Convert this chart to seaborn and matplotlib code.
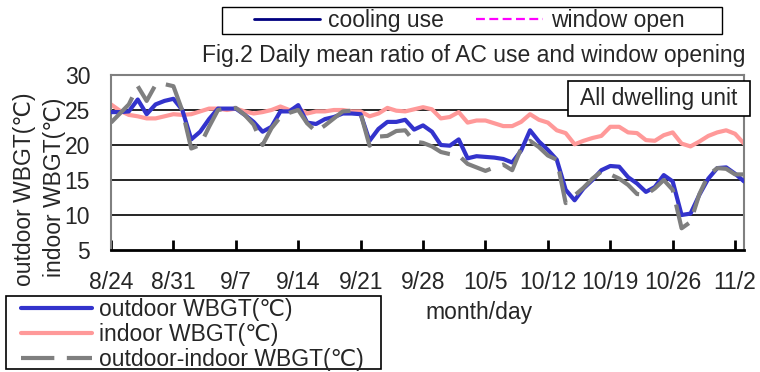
import numpy as np
import pandas as pd
import matplotlib
matplotlib.use("Agg")
import matplotlib.pyplot as plt
import matplotlib.dates as mdates
from matplotlib.lines import Line2D
from matplotlib.patches import Rectangle
import seaborn as sns

# ---------------- data ----------------
start_date = "2019-08-24"
outdoor = [24.7, 24.7, 24.8, 26.5, 24.4, 25.8, 26.3, 26.6, 25.0, 20.8,
           21.9, 23.7, 25.2, 25.2, 25.2, 24.3, 23.3, 21.9, 22.6, 24.8,
           24.8, 25.7, 23.2, 23.0, 23.7, 24.0, 24.5, 24.5, 24.4, 20.6,
           22.3, 23.3, 23.3, 23.6, 22.2, 22.8, 21.9, 20.0, 19.9, 20.8,
           18.1, 18.4, 18.3, 18.2, 18.0, 17.5, 19.2, 22.1, 20.5, 19.3,
           17.9, 13.6, 12.1, 13.8, 15.0, 16.4, 17.0, 16.9, 15.4, 14.5,
           13.3, 14.0, 15.7, 14.8, 10.0, 10.2, 12.9, 15.2, 16.7, 16.8,
           15.9, 14.8]
indoor = [25.8, 24.9, 24.3, 24.1, 23.8, 23.8, 24.1, 24.4, 24.3, 24.4,
          24.8, 25.2, 25.2, 25.0, 25.2, 24.8, 24.5, 24.7, 25.0, 25.5,
          25.0, 25.2, 24.5, 24.8, 24.8, 25.0, 25.0, 24.8, 24.8, 24.1,
          24.5, 25.3, 24.9, 24.8, 25.1, 25.4, 25.1, 23.8, 24.0, 24.7,
          23.2, 23.5, 23.5, 23.1, 22.7, 22.7, 23.3, 24.4, 23.6, 23.2,
          22.1, 21.7, 20.1, 20.6, 21.0, 21.3, 22.6, 22.6, 21.8, 21.7,
          20.7, 20.6, 21.4, 21.8, 20.2, 19.8, 20.5, 21.3, 21.8, 22.1,
          21.6, 20.2]
out_in = [23.2, 24.5, 25.8, 28.4, 26.3, 28.6, 28.7, 28.4, 24.9, 19.5,
          20.0, 22.6, 25.0, 25.2, 25.3, 24.3, 22.9, 20.0, 22.4, 24.0,
          24.6, 25.0, 23.1, 21.9, 22.8, 23.8, 24.8, 24.9, 24.5, 19.9,
          21.2, 21.3, 22.0, 22.1, 20.5, 20.3, 19.8, 19.0, 18.7, 18.5,
          17.3, 16.8, 16.3, 16.8, 17.2, 16.4, 19.5, 20.6, 19.7, 18.5,
          17.9, 11.7, 12.8, 13.9, 15.2, 16.2, 15.8, 15.2, 14.3, 13.0,
          12.9, 13.8, 15.0, 13.6, 8.1, 9.0, 13.0, 15.7, 16.7, 16.6,
          15.8, 15.8]
x_tick_labels = ["8/24", "8/31", "9/7", "9/14", "9/21", "9/28",
                 "10/5", "10/12", "10/19", "10/26", "11/2"]
y_ticks = [5, 10, 15, 20, 25, 30]
series_labels = ["outdoor WBGT(℃)", "indoor WBGT(℃)", "outdoor-indoor WBGT(℃)"]
top_legend_labels = ["cooling use", "window open"]

# ---------------- style ----------------
sns.set_theme(style="white")
plt.rcParams["font.family"] = ["Liberation Sans", "DejaVu Sans"]
FS = 16.5
plt.rcParams["font.size"] = FS

W, H = 760, 372
fig = plt.figure(figsize=(W / 100, H / 100), dpi=100)
fig.patch.set_facecolor("white")

def fx(px):
    return px / W

def fy(py):
    return 1 - py / H

ax = fig.add_axes([fx(111), fy(250), fx(744) - fx(111), fy(75) - fy(250)])
ax.set_facecolor("white")

dates = pd.date_range(start_date, periods=len(outdoor))
df = pd.DataFrame({"date": dates, "outdoor": outdoor,
                   "indoor": indoor, "out_in": out_in})

# horizontal grid lines (interior only)
for yv in y_ticks[1:-1]:
    ax.axhline(yv, color="black", lw=1.2, zorder=1)

blue, pink, gray = "#3333cc", "#ff9999", "#7f7f7f"
sns.lineplot(data=df, x="date", y="outdoor", ax=ax, color=blue, lw=3,
             label=series_labels[0], zorder=3, legend=False)
sns.lineplot(data=df, x="date", y="indoor", ax=ax, color=pink, lw=3,
             label=series_labels[1], zorder=2, legend=False)
sns.lineplot(data=df, x="date", y="out_in", ax=ax, color=gray, lw=3,
             linestyle=(0, (8, 3)), label=series_labels[2], zorder=4,
             legend=False)

ax.set_xlim(dates[0], dates[-1])
ax.set_ylim(y_ticks[0], y_ticks[-1])
ax.set_yticks(y_ticks)
ax.set_yticklabels([str(v) for v in y_ticks])
tick_pos = [dates[0] + pd.Timedelta(days=7 * i) for i in range(len(x_tick_labels))]
ax.set_xticks(tick_pos)
ax.set_xticklabels(x_tick_labels)
ax.set_xlabel("")
ax.set_ylabel("")
ax.tick_params(axis="x", direction="in", length=7, width=2, color="black",
               pad=15, labelsize=FS, bottom=True)
ax.tick_params(axis="y", length=0, pad=15, labelsize=FS)

for s in ["top", "left", "right"]:
    ax.spines[s].set_color("#808080")
    ax.spines[s].set_linewidth(1.5)
ax.spines["bottom"].set_color("black")
ax.spines["bottom"].set_linewidth(2)

# ---------------- texts ----------------
fig.text(fx(473.5), fy(62), "Fig.2 Daily mean ratio of AC use and window opening",
         ha="center", va="baseline", fontsize=FS)
fig.text(fx(25), fy(189), series_labels[0], rotation=90, ha="center",
         va="center", fontsize=FS)
fig.text(fx(55), fy(187), series_labels[1], rotation=90, ha="center",
         va="center", fontsize=FS)
fig.text(fx(479), fy(313), "month/day", ha="center", va="center", fontsize=FS)

# "All dwelling unit" box
fig.patches.append(Rectangle((fx(568), fy(116)), fx(750) - fx(568), fy(81) - fy(116),
                             transform=fig.transFigure, facecolor="white",
                             edgecolor="black", lw=1.2, zorder=5))
fig.text(fx(659), fy(98.5), "All dwelling unit", ha="center", va="center",
         fontsize=FS, zorder=6)

# ---------------- top legend (cooling / window) ----------------
fig.patches.append(Rectangle((fx(222), fy(34)), fx(722) - fx(222), fy(7) - fy(34),
                             transform=fig.transFigure, facecolor="white",
                             edgecolor="black", lw=1.0, zorder=5))
top_handles = [Line2D([], [], color="#000080", lw=2),
               Line2D([], [], color="#ff00ff", lw=1.6, linestyle=(0, (4, 2)))]
leg_top = fig.legend(top_handles, top_legend_labels, ncol=2,
                     loc="center left", bbox_to_anchor=(fx(254), fy(20.5)),
                     frameon=False, fontsize=FS, handlelength=2.9,
                     handletextpad=0.35, columnspacing=1.4,
                     borderpad=0, borderaxespad=0)
leg_top.set_zorder(6)

# ---------------- bottom legend ----------------
fig.patches.append(Rectangle((fx(6), fy(369)), fx(381) - fx(6), fy(296) - fy(369),
                             transform=fig.transFigure, facecolor="white",
                             edgecolor="black", lw=1.2, zorder=5))
bot_handles = [Line2D([], [], color=blue, lw=3),
               Line2D([], [], color=pink, lw=3),
               Line2D([], [], color=gray, lw=3, linestyle=(0, (8, 3)))]
leg_bot = fig.legend(bot_handles, series_labels, loc="upper left",
                     bbox_to_anchor=(fx(20), fy(297)), frameon=False,
                     fontsize=FS, handlelength=3.1, handletextpad=0.3,
                     labelspacing=0.09, borderpad=0.05, borderaxespad=0)
leg_bot.set_zorder(6)

fig.savefig("out.png", dpi=100, facecolor="white")
